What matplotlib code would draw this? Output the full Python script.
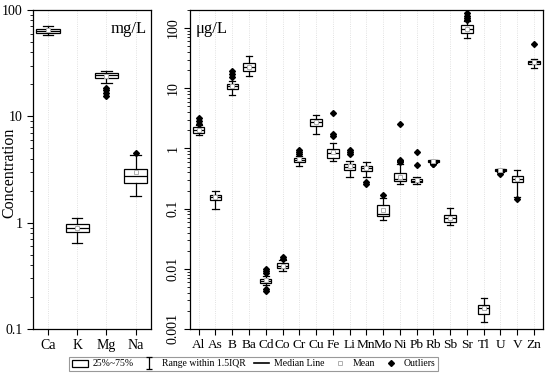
import matplotlib
matplotlib.use("Agg")
import matplotlib.pyplot as plt
from matplotlib.path import Path
from matplotlib.lines import Line2D
from matplotlib.patches import Patch
from matplotlib.ticker import LogLocator, FuncFormatter, NullFormatter

plt.rcParams['font.family'] = ['Liberation Serif', 'DejaVu Serif']

# major ions, mg/L
major = ["Ca", "K", "Mg", "Na"]
major_q1 = [61, 0.81, 23.1, 2.38]
major_med = [64, 0.885, 24.3, 2.77]
major_q3 = [66.9, 0.966, 25.4, 3.18]
major_lo = [58.7, 0.64, 20.8, 1.79]
major_hi = [70.5, 1.11, 26.9, 4.33]
major_mean = [64.2, 0.89, 24.2, 3.0]
major_out = [[], [], [18.6, 17.5, 16.5, 15.7], [4.56]]

# trace elements, ug/L
trace = ["Al", "As", "B", "Ba", "Cd", "Co", "Cr", "Cu", "Fe", "Li", "Mn",
         "Mo", "Ni", "Pb", "Rb", "Sb", "Sr", "Tl", "U", "V", "Zn"]
trace_q1 = [1.80, 0.141, 9.8, 19.2, 0.00586, 0.01017, 0.594, 2.35, 0.70, 0.445, 0.42,
            0.0748, 0.288, 0.274, 0.595, 0.060, 83, 0.00175, 0.42, 0.274, 25.5]
trace_med = [2.03, 0.155, 10.9, 22.4, 0.00632, 0.0112, 0.647, 2.71, 0.84, 0.50, 0.467,
             0.083, 0.315, 0.292, 0.61, 0.0693, 98, 0.0022, 0.435, 0.307, 27.1]
trace_q3 = [2.26, 0.171, 12.0, 26.8, 0.00682, 0.0123, 0.703, 3.12, 0.99, 0.56, 0.51,
            0.114, 0.39, 0.311, 0.635, 0.0798, 111, 0.0025, 0.45, 0.354, 28.9]
trace_lo = [1.65, 0.10, 7.6, 16.3, 0.00531, 0.00927, 0.51, 1.73, 0.61, 0.33, 0.33,
            0.066, 0.26, 0.26, 0.58, 0.0545, 69, 0.00132, 0.41, 0.155, 21.5]
trace_hi = [2.41, 0.195, 13.0, 34.6, 0.00757, 0.0139, 0.74, 3.64, 1.23, 0.62, 0.595,
            0.149, 0.56, 0.34, 0.64, 0.1016, 130, 0.00323, 0.46, 0.434, 30.4]
trace_mean = [2.05, 0.156, 10.9, 22.6, 0.0064, 0.0113, 0.66, 2.75, 0.86, 0.51, 0.47,
              0.0966, 0.34, 0.295, 0.61, 0.0705, 97, 0.0022, 0.435, 0.31, 27.0]
trace_out = [[3.24, 2.85, 2.51], [], [19.4, 17.3, 15.3], [],
             [0.0099, 0.00916, 0.0085, 0.0046, 0.00426], [0.0155, 0.0148],
             [0.93, 0.86, 0.81], [], [3.93, 1.76, 1.63], [0.93, 0.86, 0.80],
             [0.277, 0.254], [0.169], [2.58, 0.65, 0.62, 0.59], [0.87, 0.54],
             [0.56, 0.55], [], [176, 161, 149, 138], [], [0.406, 0.382], [0.146], [54.7]]


def make_stats(names, q1, med, q3, lo, hi, mean, out):
    stats = []
    for i in range(len(names)):
        stats.append(dict(label=names[i], q1=q1[i], med=med[i], q3=q3[i],
                          whislo=lo[i], whishi=hi[i], mean=mean[i], fliers=out[i]))
    return stats


box_kw = dict(patch_artist=True, showmeans=True,
              boxprops=dict(facecolor='white', edgecolor='black', linewidth=0.9),
              whiskerprops=dict(color='black', linewidth=0.9),
              capprops=dict(color='black', linewidth=0.9),
              medianprops=dict(color='black', linewidth=0.9),
              meanprops=dict(marker='s', markerfacecolor='white', markeredgecolor='#b0b0b0',
                             markersize=3.5, markeredgewidth=0.7),
              flierprops=dict(marker='D', markerfacecolor='black', markeredgecolor='black',
                              markersize=3))

fig = plt.figure(figsize=(5.5, 3.78), dpi=100)
ax1 = fig.add_axes([33 / 550, 49 / 378, 117.7 / 550, 319 / 378])
ax2 = fig.add_axes([190 / 550, 49 / 378, 352.7 / 550, 319 / 378])

ax1.bxp(make_stats(major, major_q1, major_med, major_q3, major_lo, major_hi,
                   major_mean, major_out),
        positions=range(len(major)), widths=0.8, capwidths=0.35, **box_kw)
ax2.bxp(make_stats(trace, trace_q1, trace_med, trace_q3, trace_lo, trace_hi,
                   trace_mean, trace_out),
        positions=range(len(trace)), widths=0.68, capwidths=0.38, **box_kw)

for ax, n in [(ax1, len(major)), (ax2, len(trace))]:
    ax.set_yscale('log')
    ax.set_xlim(-0.52, n - 0.48)
    ax.grid(axis='x', color='#d8d8d8', linestyle=':', linewidth=0.6)
    ax.set_axisbelow(True)
    ax.yaxis.set_minor_locator(LogLocator(base=10, subs=range(2, 10), numticks=20))
    ax.yaxis.set_minor_formatter(NullFormatter())
    ax.tick_params(axis='both', which='major', direction='out', length=4, width=0.8,
                   labelsize=10, colors='black')
    ax.tick_params(axis='y', which='minor', direction='out', length=2, width=0.6)
    for s in ax.spines.values():
        s.set_linewidth(0.9)

ax1.set_ylim(0.1, 100)
ax1.set_yticks([0.1, 1, 10, 100])
ax1.yaxis.set_major_formatter(FuncFormatter(lambda v, p: '%g' % v))
ax1.set_xticks(range(len(major)))
ax1.set_xticklabels(major)
ax1.set_ylabel('Concentration', fontsize=11.5)
ax1.yaxis.set_label_coords(-0.13, 0.49)
ax1.text(0.97, 0.965, 'mg/L', transform=ax1.transAxes, ha='right', va='top', fontsize=12)

ax2.set_ylim(0.001, 200)
ax2.set_yticks([0.001, 0.01, 0.1, 1, 10, 100])
ax2.yaxis.set_major_formatter(FuncFormatter(lambda v, p: '%g' % v))
for lab in ax2.get_yticklabels():
    lab.set_rotation(90)
    lab.set_va('center')
ax2.set_xticks(range(len(trace)))
ax2.set_xticklabels(trace, fontsize=9.6)
ax2.text(0.015, 0.965, 'μg/L', transform=ax2.transAxes, ha='left', va='top', fontsize=12)

# legend
ibar = Path([(-0.5, 1), (0.5, 1), (0, 1), (0, -1), (-0.5, -1), (0.5, -1)],
            [Path.MOVETO, Path.LINETO, Path.MOVETO, Path.LINETO, Path.MOVETO, Path.LINETO])
handles = [Patch(facecolor='white', edgecolor='black', linewidth=0.9),
           Line2D([], [], marker=ibar, linestyle='none', markersize=8,
                  markerfacecolor='none', markeredgecolor='black', markeredgewidth=0.9),
           Line2D([], [], color='black', linewidth=1.2),
           Line2D([], [], marker='s', linestyle='none', markersize=3.5,
                  markerfacecolor='white', markeredgecolor='#b0b0b0', markeredgewidth=0.7),
           Line2D([], [], marker='D', linestyle='none', markersize=3, color='black')]
labels = ['25%~75%', 'Range within 1.5IQR', 'Median Line', 'Mean', 'Outliers']
leg = fig.legend(handles, labels, loc='center', bbox_to_anchor=(253.7 / 550, 1 - 364 / 378),
                 ncol=5, fontsize=7, frameon=True, fancybox=False, edgecolor='#808080',
                 handlelength=1.6, handletextpad=0.5, columnspacing=0.8, borderpad=0.3)
leg.get_frame().set_linewidth(0.8)

fig.savefig('out.png', dpi=100)
